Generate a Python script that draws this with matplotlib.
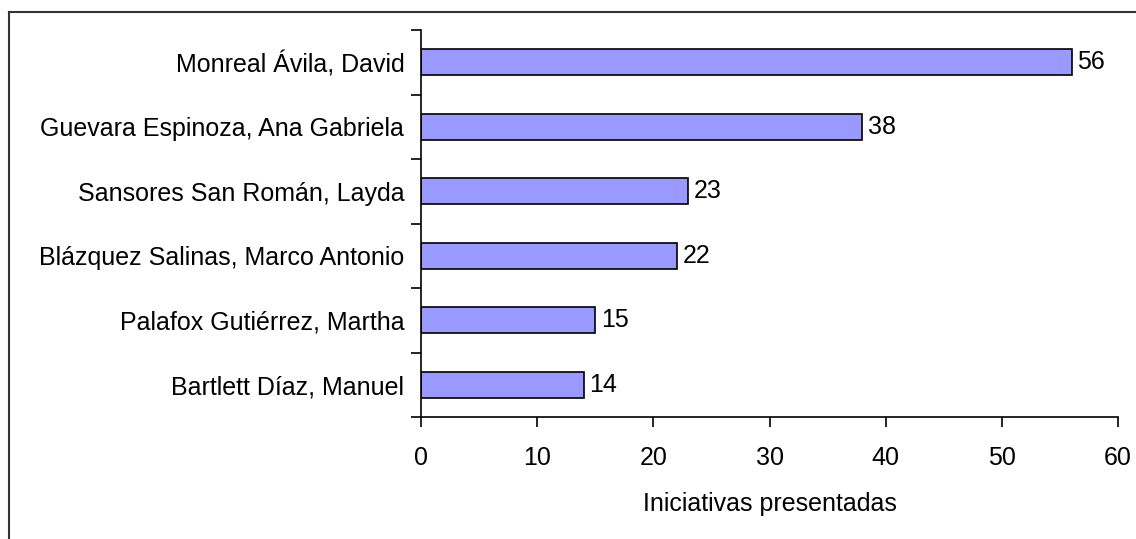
import numpy as np
import matplotlib.pyplot as plt
from matplotlib.lines import Line2D

plt.rcParams['font.family'] = ['Liberation Sans', 'DejaVu Sans']

names = ['Monreal Ávila, David',
         'Guevara Espinoza, Ana Gabriela',
         'Sansores San Román, Layda',
         'Blázquez Salinas, Marco Antonio',
         'Palafox Gutiérrez, Martha',
         'Bartlett Díaz, Manuel']
iniciativas = [56, 38, 23, 22, 15, 14]
xticks = [0, 10, 20, 30, 40, 50, 60]

fs = 18

fig = plt.figure(figsize=(11.36, 5.39), dpi=100)
ax = fig.add_axes([0.3706, 0.2263, 0.6136, 0.7180])

y = np.arange(len(names))[::-1]
ax.barh(y, iniciativas, height=0.4, color='#9999FF', edgecolor='black', linewidth=1.2)
for yi, v in zip(y, iniciativas):
    ax.text(v + 0.5, yi, str(v), va='center', ha='left', fontsize=fs)

ax.set_xlim(0, 60)
ax.set_ylim(-0.5, len(names) - 0.5)
ax.set_xticks(xticks)
ax.set_yticks(y)
ax.set_yticklabels(names)
ax.set_yticks(np.arange(len(names) + 1) - 0.5, minor=True)
ax.tick_params(axis='y', which='major', length=0, pad=12, labelsize=fs)
ax.tick_params(axis='y', which='minor', length=7, width=1.2, direction='out')
ax.tick_params(axis='x', length=7, width=1.2, direction='out', pad=14, labelsize=fs)
ax.set_xlabel('Iniciativas presentadas', fontsize=fs, labelpad=16)

for s in ['top', 'right']:
    ax.spines[s].set_visible(False)
for s in ['left', 'bottom']:
    ax.spines[s].set_linewidth(1.2)

# figure frame (top and left edges)
fig.add_artist(Line2D([9 / 1136, 9 / 1136], [0, 1 - 12 / 539], color='#333333', lw=1.5))
fig.add_artist(Line2D([9 / 1136, 1], [1 - 12 / 539, 1 - 12 / 539], color='#333333', lw=1.5))

fig.savefig('out.png', dpi=100)
